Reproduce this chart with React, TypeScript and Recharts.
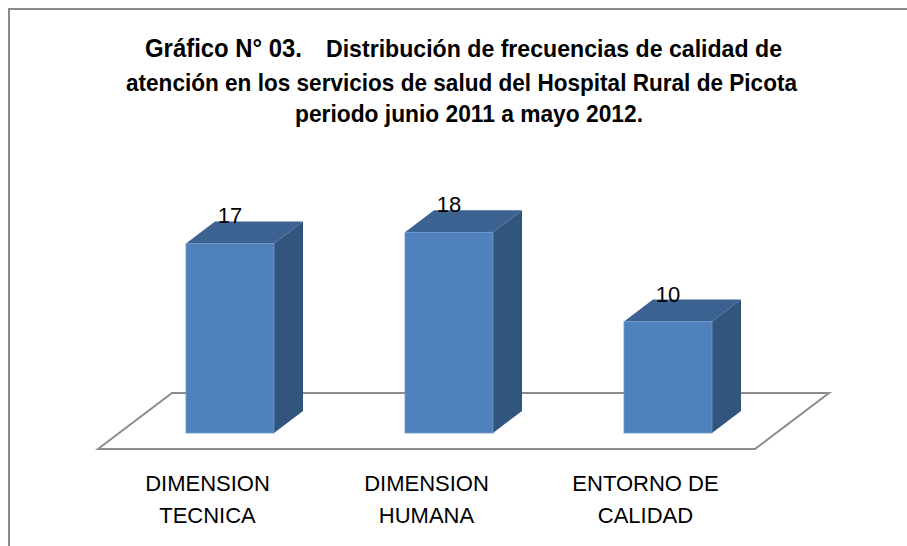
import * as Recharts from "recharts";

const { BarChart, Bar, XAxis, YAxis, LabelList, Customized } = Recharts;

// data
const categories = ["DIMENSION\nTECNICA", "DIMENSION\nHUMANA", "ENTORNO DE\nCALIDAD"];
const frecuencias = [17, 18, 10];

const titleLine1a = "Gráfico N° 03.";
const titleLine1b = "Distribución de frecuencias de  calidad de";
const titleLine2 = "atención en los servicios de salud del Hospital Rural de Picota";
const titleLine3 = "periodo junio 2011 a mayo 2012.";

const data = categories.map((name, i) => ({ name, value: frecuencias[i] }));

const W = 907;
const H = 546;
const FONT = '"Liberation Sans", Arial, sans-serif';

// 3D look: bars sit inside the floor, offset from its front edge
const SHIFT_X = 22;
const SHIFT_Y = 16;
const DEPTH_X = 29;
const DEPTH_Y = 22;
const FLOOR_X = 74;
const FLOOR_Y = 56;

const FRONT = "#4F81BD";
const TOP = "#3C6291";
const SIDE = "#32557E";

function Box3D(props: any) {
  const { x, y, width, height } = props;
  if (!height || height <= 0) return null;
  const l = x + SHIFT_X;
  const r = l + width;
  const t = y - SHIFT_Y;
  const b = y + height - SHIFT_Y;
  return (
    <g>
      <polygon
        points={`${l},${t} ${l + DEPTH_X},${t - DEPTH_Y} ${r + DEPTH_X},${t - DEPTH_Y} ${r},${t}`}
        fill={TOP}
      />
      <polygon
        points={`${r},${t} ${r + DEPTH_X},${t - DEPTH_Y} ${r + DEPTH_X},${b - DEPTH_Y} ${r},${b}`}
        fill={SIDE}
      />
      <rect x={l} y={t} width={width} height={height} fill={FRONT} stroke="#6f97cb" strokeWidth={0.8} />
    </g>
  );
}

function Floor() {
  const R: any = Recharts;
  const area = R.usePlotArea ? R.usePlotArea() : null;
  const off = R.useOffset ? R.useOffset() : null;
  let x = 98,
    y = 226,
    w = 657,
    h = 223;
  if (area) {
    ({ x, y, width: w, height: h } = area);
  } else if (off) {
    x = off.left;
    y = off.top;
    w = W - off.left - off.right;
    h = H - off.top - off.bottom;
  }
  const by = y + h;
  return (
    <polygon
      points={`${x},${by} ${x + w},${by} ${x + w + FLOOR_X},${by - FLOOR_Y} ${x + FLOOR_X},${by - FLOOR_Y}`}
      fill="none"
      stroke="#8c8c8c"
      strokeWidth={2}
    />
  );
}

function CategoryTick(props: any) {
  const { x, y, payload } = props;
  const lines = String(payload.value).split("\n");
  return (
    <text x={x} y={y} textAnchor="middle" fontFamily={FONT} fontSize={22} fill="#000">
      {lines.map((ln, i) => (
        <tspan key={i} x={x} dy={i === 0 ? 42 : 32}>
          {ln}
        </tspan>
      ))}
    </text>
  );
}

function ValueLabel(props: any) {
  const { x, y, width, value } = props;
  return (
    <text
      x={x + SHIFT_X + width / 2}
      y={y - 36}
      textAnchor="middle"
      fontFamily={FONT}
      fontSize={22}
      fill="#000"
    >
      {value}
    </text>
  );
}

export default function App() {
  return (
    <div style={{ position: "relative", width: W, height: H, overflow: "hidden", background: "#fff" }}>
      <style>{`body{margin:0;overflow:hidden}`}</style>
      <div
        style={{
          position: "absolute",
          left: 8,
          top: 8,
          width: 1000,
          height: 1000,
          borderTop: "2px solid #8a8a8a",
          borderLeft: "2px solid #8a8a8a",
        }}
      />
      <svg width={W} height={140} style={{ position: "absolute", left: 0, top: 0 }}>
        <g fontFamily={FONT} fontWeight="bold" fill="#000">
          <text x={145} y={57} fontSize={26} textLength={157} lengthAdjust="spacingAndGlyphs">
            {titleLine1a}
          </text>
          <text x={326} y={57} fontSize={24.5} textLength={456} lengthAdjust="spacingAndGlyphs">
            {titleLine1b}
          </text>
          <text x={126} y={91} fontSize={24.5} textLength={671} lengthAdjust="spacingAndGlyphs">
            {titleLine2}
          </text>
          <text x={295} y={122} fontSize={24.5} textLength={348} lengthAdjust="spacingAndGlyphs">
            {titleLine3}
          </text>
        </g>
      </svg>
      <div style={{ position: "absolute", left: 0, top: 0 }}>
        <BarChart width={W} height={H} data={data} margin={{ top: 226, right: 152, bottom: 57, left: 98 }}>
          <Customized component={Floor} />
          <XAxis
            dataKey="name"
            axisLine={false}
            tickLine={false}
            tickSize={0}
            tickMargin={0}
            height={40}
            interval={0}
            tick={<CategoryTick />}
          />
          <YAxis hide domain={[0, 20]} />
          <Bar dataKey="value" barSize={88} shape={<Box3D />} isAnimationActive={false}>
            <LabelList dataKey="value" content={<ValueLabel />} />
          </Bar>
        </BarChart>
      </div>
    </div>
  );
}
